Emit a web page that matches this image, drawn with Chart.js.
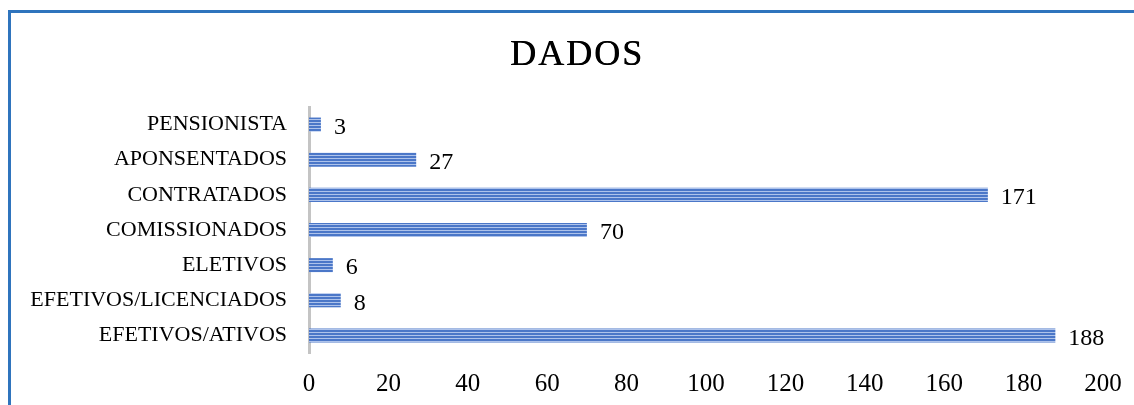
<!DOCTYPE html>
<html>
<head>
<meta charset="utf-8">
<script src="https://cdn.jsdelivr.net/npm/chart.js@4.4.1/dist/chart.umd.min.js"></script>
<style>
  html, body { margin: 0; padding: 0; background: #fff; }
  #wrap { width: 1134px; height: 405px; }
</style>
</head>
<body>
<div id="wrap"><canvas id="dadosChart" width="1134" height="405"></canvas></div>
<script>
// categorias e valores
const categories = ['PENSIONISTA', 'APONSENTADOS', 'CONTRATADOS', 'COMISSIONADOS', 'ELETIVOS', 'EFETIVOS/LICENCIADOS', 'EFETIVOS/ATIVOS'];
const values = [3, 27, 171, 70, 6, 8, 188];
const xTicks = [0, 20, 40, 60, 80, 100, 120, 140, 160, 180, 200];
const chartTitle = 'DADOS';

const serif = "'Liberation Serif', 'DejaVu Serif', serif";

// listras horizontais das barras
function stripePattern() {
    const c = document.createElement('canvas');
    c.width = 4;
    c.height = 3;
    const g = c.getContext('2d');
    g.fillStyle = '#4b77c8';
    g.fillRect(0, 0, 4, 3);
    g.fillStyle = '#aec3eb';
    g.fillRect(0, 2, 4, 1);
    return g.createPattern(c, 'repeat');
}

const framePlugin = {
    id: 'frame',
    afterDraw(chart) {
        const ctx = chart.ctx;
        ctx.save();
        // moldura azul
        ctx.strokeStyle = '#2f74bd';
        ctx.lineWidth = 3;
        ctx.beginPath();
        ctx.moveTo(1134, 11.5);
        ctx.lineTo(9.5, 11.5);
        ctx.lineTo(9.5, 405);
        ctx.stroke();
        // titulo
        ctx.fillStyle = '#000';
        ctx.font = "36px " + serif;
        ctx.textAlign = 'center';
        ctx.textBaseline = 'middle';
        if ('letterSpacing' in ctx) ctx.letterSpacing = '2px';
        ctx.fillText(chartTitle, 577, 56);
        ctx.fillText(chartTitle, 577.6, 56);
        if ('letterSpacing' in ctx) ctx.letterSpacing = '0px';
        // rotulos de valor
        ctx.font = "24px " + serif;
        ctx.textAlign = 'left';
        const meta = chart.getDatasetMeta(0);
        meta.data.forEach(function (bar, i) {
            ctx.fillText(String(values[i]), bar.x + 13, bar.y + 3);
        });
        ctx.restore();
    }
};

new Chart(document.getElementById('dadosChart'), {
    type: 'bar',
    data: {
        labels: categories,
        datasets: [{
            data: values,
            backgroundColor: stripePattern(),
            borderWidth: 0,
            barPercentage: 0.8,
            categoryPercentage: 0.5
        }]
    },
    options: {
        indexAxis: 'y',
        responsive: false,
        animation: false,
        events: [],
        layout: { padding: { top: 107, right: 31, bottom: 0, left: 0 } },
        plugins: {
            legend: { display: false },
            tooltip: { enabled: false },
            title: { display: false }
        },
        scales: {
            x: {
                min: 0,
                max: 200,
                afterBuildTicks: function (scale) {
                    scale.ticks = xTicks.map(v => ({ value: v }));
                },
                afterFit: function (scale) { scale.height = 52; },
                grid: { display: false },
                border: { display: false },
                ticks: { color: '#000', padding: 8, maxRotation: 0, font: { family: serif, size: 25 } }
            },
            y: {
                afterFit: function (scale) { scale.width = 309; },
                grid: { display: false },
                border: { display: true, color: '#c4c4c4', width: 3 },
                ticks: { color: '#000', padding: 14, font: { family: serif, size: 22 } }
            }
        }
    },
    plugins: [framePlugin]
});
</script>
</body>
</html>
